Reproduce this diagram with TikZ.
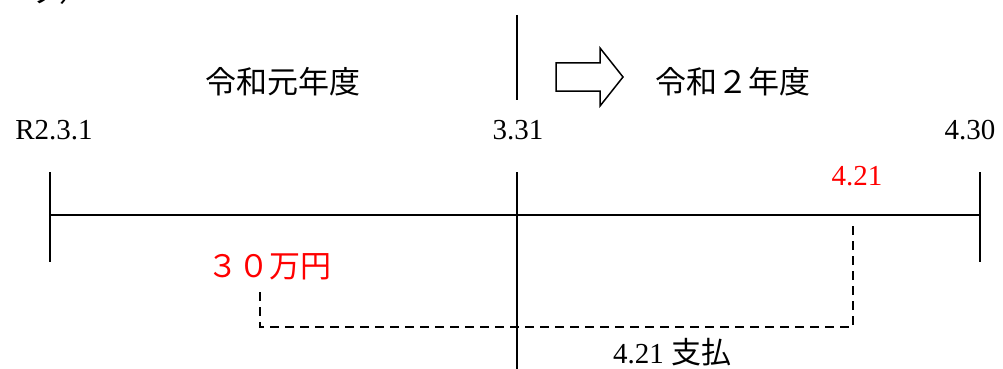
\documentclass[tikz,border=0pt]{standalone}
\usepackage{fontspec}
\setmainfont{Liberation Serif}
\newfontfamily\jp{Noto Sans CJK JP}
\definecolor{txtred}{RGB}{255,0,0}
\begin{document}
\begin{tikzpicture}[x=1pt,y=-1pt,
  lbl/.style={inner sep=0pt,font=\fontsize{29}{32}\selectfont},
  jlbl/.style={inner sep=0pt,font=\fontsize{31}{34}\selectfont\jp},
  solidline/.style={line width=2.2pt,black},
  dashline/.style={line width=2pt,black,dash pattern=on 9pt off 6pt}]
\useasboundingbox (0,0) rectangle (1003,369);
\clip (0,0) rectangle (1003,369);
% partial text at top left
\node[jlbl,anchor=base west] (cut) at (28,2) {ッ）};
% coordinates
\coordinate (L0) at (50,172); \coordinate (L1) at (50,262);
\coordinate (R0) at (980,172); \coordinate (R1) at (980,262);
\coordinate (M0) at (517,15); \coordinate (M1) at (517,100);
\coordinate (M2) at (517,172); \coordinate (M3) at (517,369);
\coordinate (HL) at (50,215); \coordinate (HR) at (980,215);
\draw[solidline] (L0) -- (L1);
\draw[solidline] (R0) -- (R1);
\draw[solidline] (M0) -- (M1);
\draw[solidline] (M2) -- (M3);
\draw[solidline] (HL) -- (HR);
% block arrow
\draw[line width=1.5pt,line join=miter] (556,63) -- (600,63) -- (600,48) -- (623,77) -- (600,106) -- (600,91) -- (556,91) -- cycle;
% labels
\node[jlbl] (y1) at (283,82) {令和元年度};
\node[jlbl] (y2) at (733,82) {令和２年度};
\node[lbl] (d1) at (54,130) {R2.3.1};
\node[lbl] (d2) at (518,130) {3.31};
\node[lbl] (d3) at (970,130) {4.30};
\node[lbl,text=txtred] (d4) at (857,176) {4.21};
\node[jlbl,text=txtred] (amt) at (269,267) {３０万円};
\node[lbl] (pay) at (672,352) {4.21 {\jp\fontsize{30}{32}\selectfont 支払}};
% dashed connector
\coordinate (A) at (260,292);
\coordinate (B) at (853,225);
\draw[dashline] (A) -- (260,327) -- (853,327) -- (B);
\end{tikzpicture}
\end{document}
